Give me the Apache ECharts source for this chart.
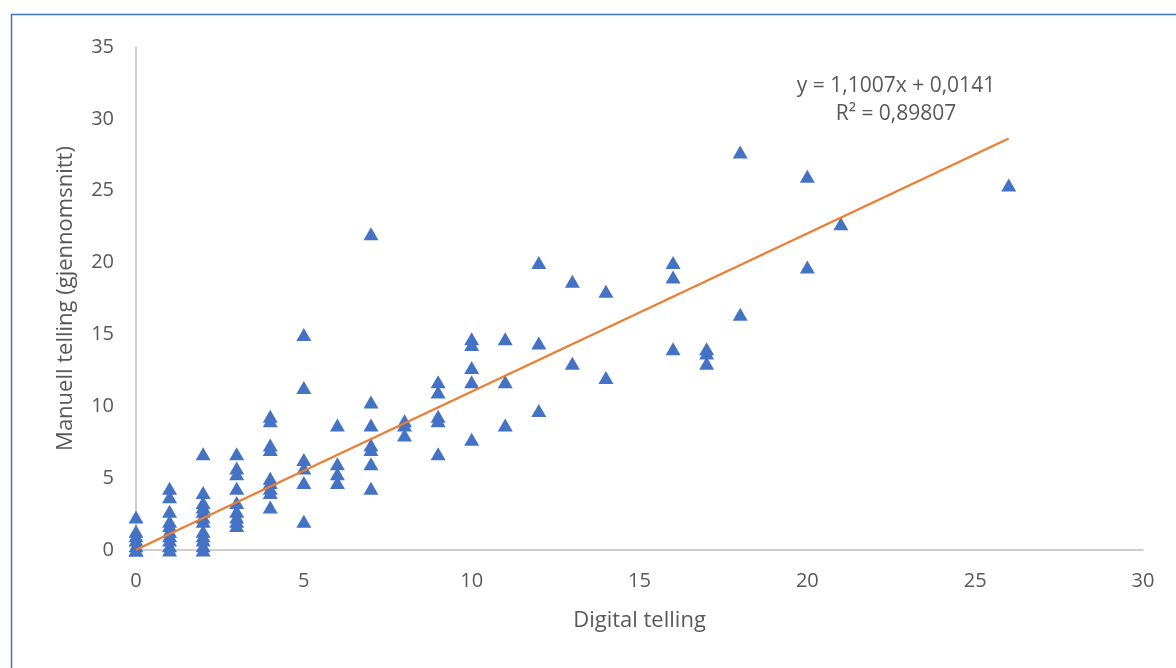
<!DOCTYPE html>
<html>
<head>
<meta charset="utf-8">
<script src="https://cdn.jsdelivr.net/npm/echarts@6/dist/echarts.min.js"></script>
<style>
html,body{margin:0;padding:0;background:#fff;}
#chart{width:1176px;height:668px;}
</style>
</head>
<body>
<div id="chart"></div>
<script>
// Digital telling (x) and Manuell telling (y)
const digital = [
  0,0,0,0,0,0,0,
  1,1,1,1,1,1,1,1,1,1,
  2,2,2,2,2,2,2,2,2,2,2,2,
  3,3,3,3,3,3,3,3,3,
  4,4,4,4,4,4,4,4,4,
  5,5,5,5,5,5,
  6,6,6,6,
  7,7,7,7,7,7,7,
  8,8,8,
  9,9,9,9,9,
  10,10,10,10,10,
  11,11,11,
  12,12,12,
  13,13,
  14,14,
  16,16,16,
  17,17,17,
  18,18,
  20,20,
  21,
  26
];
const manual = [
  2.3,1.3,1.0,0.7,0.3,0,0,
  4.3,3.7,2.7,2.0,1.7,1.3,1.0,0.7,0.3,0,
  6.7,4.0,3.3,3.0,2.7,2.3,2.0,1.3,1.0,0.7,0.3,0,
  6.7,5.7,5.3,4.3,3.3,2.7,2.3,2.0,1.7,
  9.3,9.0,7.3,7.0,5.0,4.7,4.3,4.0,3.0,
  15.0,11.3,6.3,5.7,4.7,2.0,
  8.7,6.0,5.3,4.7,
  22.0,10.3,8.7,7.3,7.0,6.0,4.3,
  9.0,8.7,8.0,
  11.7,11.0,9.3,9.0,6.7,
  14.7,14.3,12.7,11.7,7.7,
  14.7,11.7,8.7,
  20.0,14.4,9.7,
  18.7,13.0,
  18.0,12.0,
  20.0,19.0,14.0,
  14.0,13.7,13.0,
  27.7,16.4,
  26.0,19.7,
  22.7,
  25.4
];
// Trend line as given in the chart label
const trendSlope = 1.1007;
const trendIntercept = 0.0141;
const trendRange = [0, 26];
const equationLines = ['y = 1,1007x + 0,0141', 'R² = 0,89807'];
const xName = 'Digital telling';
const yName = 'Manuell telling (gjennomsnitt)';

const points = digital.map((d, i) => [d, manual[i]]);
const trend = trendRange.map(x => [x, trendSlope * x + trendIntercept]);

const font = '"Open Sans", "Noto Sans", sans-serif';
const chart = echarts.init(document.getElementById('chart'), null, {renderer: 'canvas'});
chart.setOption({
  backgroundColor: '#ffffff',
  animation: false,
  grid: {left: 136, right: 33, top: 47, bottom: 118},
  xAxis: {
    type: 'value', min: 0, max: 30, interval: 5,
    name: xName, nameLocation: 'middle', nameGap: 60,
    nameTextStyle: {color: '#595959', fontSize: 22, fontFamily: font},
    axisLine: {show: true, lineStyle: {color: '#BFBFBF', width: 1.5}},
    axisTick: {show: false},
    splitLine: {show: false},
    axisLabel: {color: '#595959', fontSize: 20, fontFamily: font, margin: 21}
  },
  yAxis: {
    type: 'value', min: 0, max: 35, interval: 5,
    name: yName, nameLocation: 'middle', nameGap: 59,
    nameTextStyle: {color: '#595959', fontSize: 22, fontFamily: font},
    axisLine: {show: true, onZero: false, lineStyle: {color: '#BFBFBF', width: 1.5}},
    axisTick: {show: false},
    splitLine: {show: false},
    axisLabel: {color: '#595959', fontSize: 20, fontFamily: font, margin: 22}
  },
  series: [
    {
      type: 'line', data: trend, showSymbol: false, symbol: 'none',
      lineStyle: {color: '#ED7D31', width: 2.25}, z: 3, silent: true
    },
    {
      type: 'scatter', data: points, symbol: 'triangle', symbolSize: [15, 13],
      itemStyle: {color: '#4472C4', opacity: 1}, z: 2
    }
  ],
  graphic: [
    {
      type: 'rect', left: 9, top: 12, silent: true,
      shape: {width: 1300, height: 800},
      style: {fill: 'none', stroke: '#4472C4', lineWidth: 1.5}
    },
    {
      type: 'text', x: 896, y: 86, silent: true,
      style: {text: equationLines[0], fill: '#595959', font: '21px ' + font, align: 'center', verticalAlign: 'middle'}
    },
    {
      type: 'text', x: 896, y: 114, silent: true,
      style: {text: equationLines[1], fill: '#595959', font: '21px ' + font, align: 'center', verticalAlign: 'middle'}
    }
  ]
});
</script>
</body>
</html>
